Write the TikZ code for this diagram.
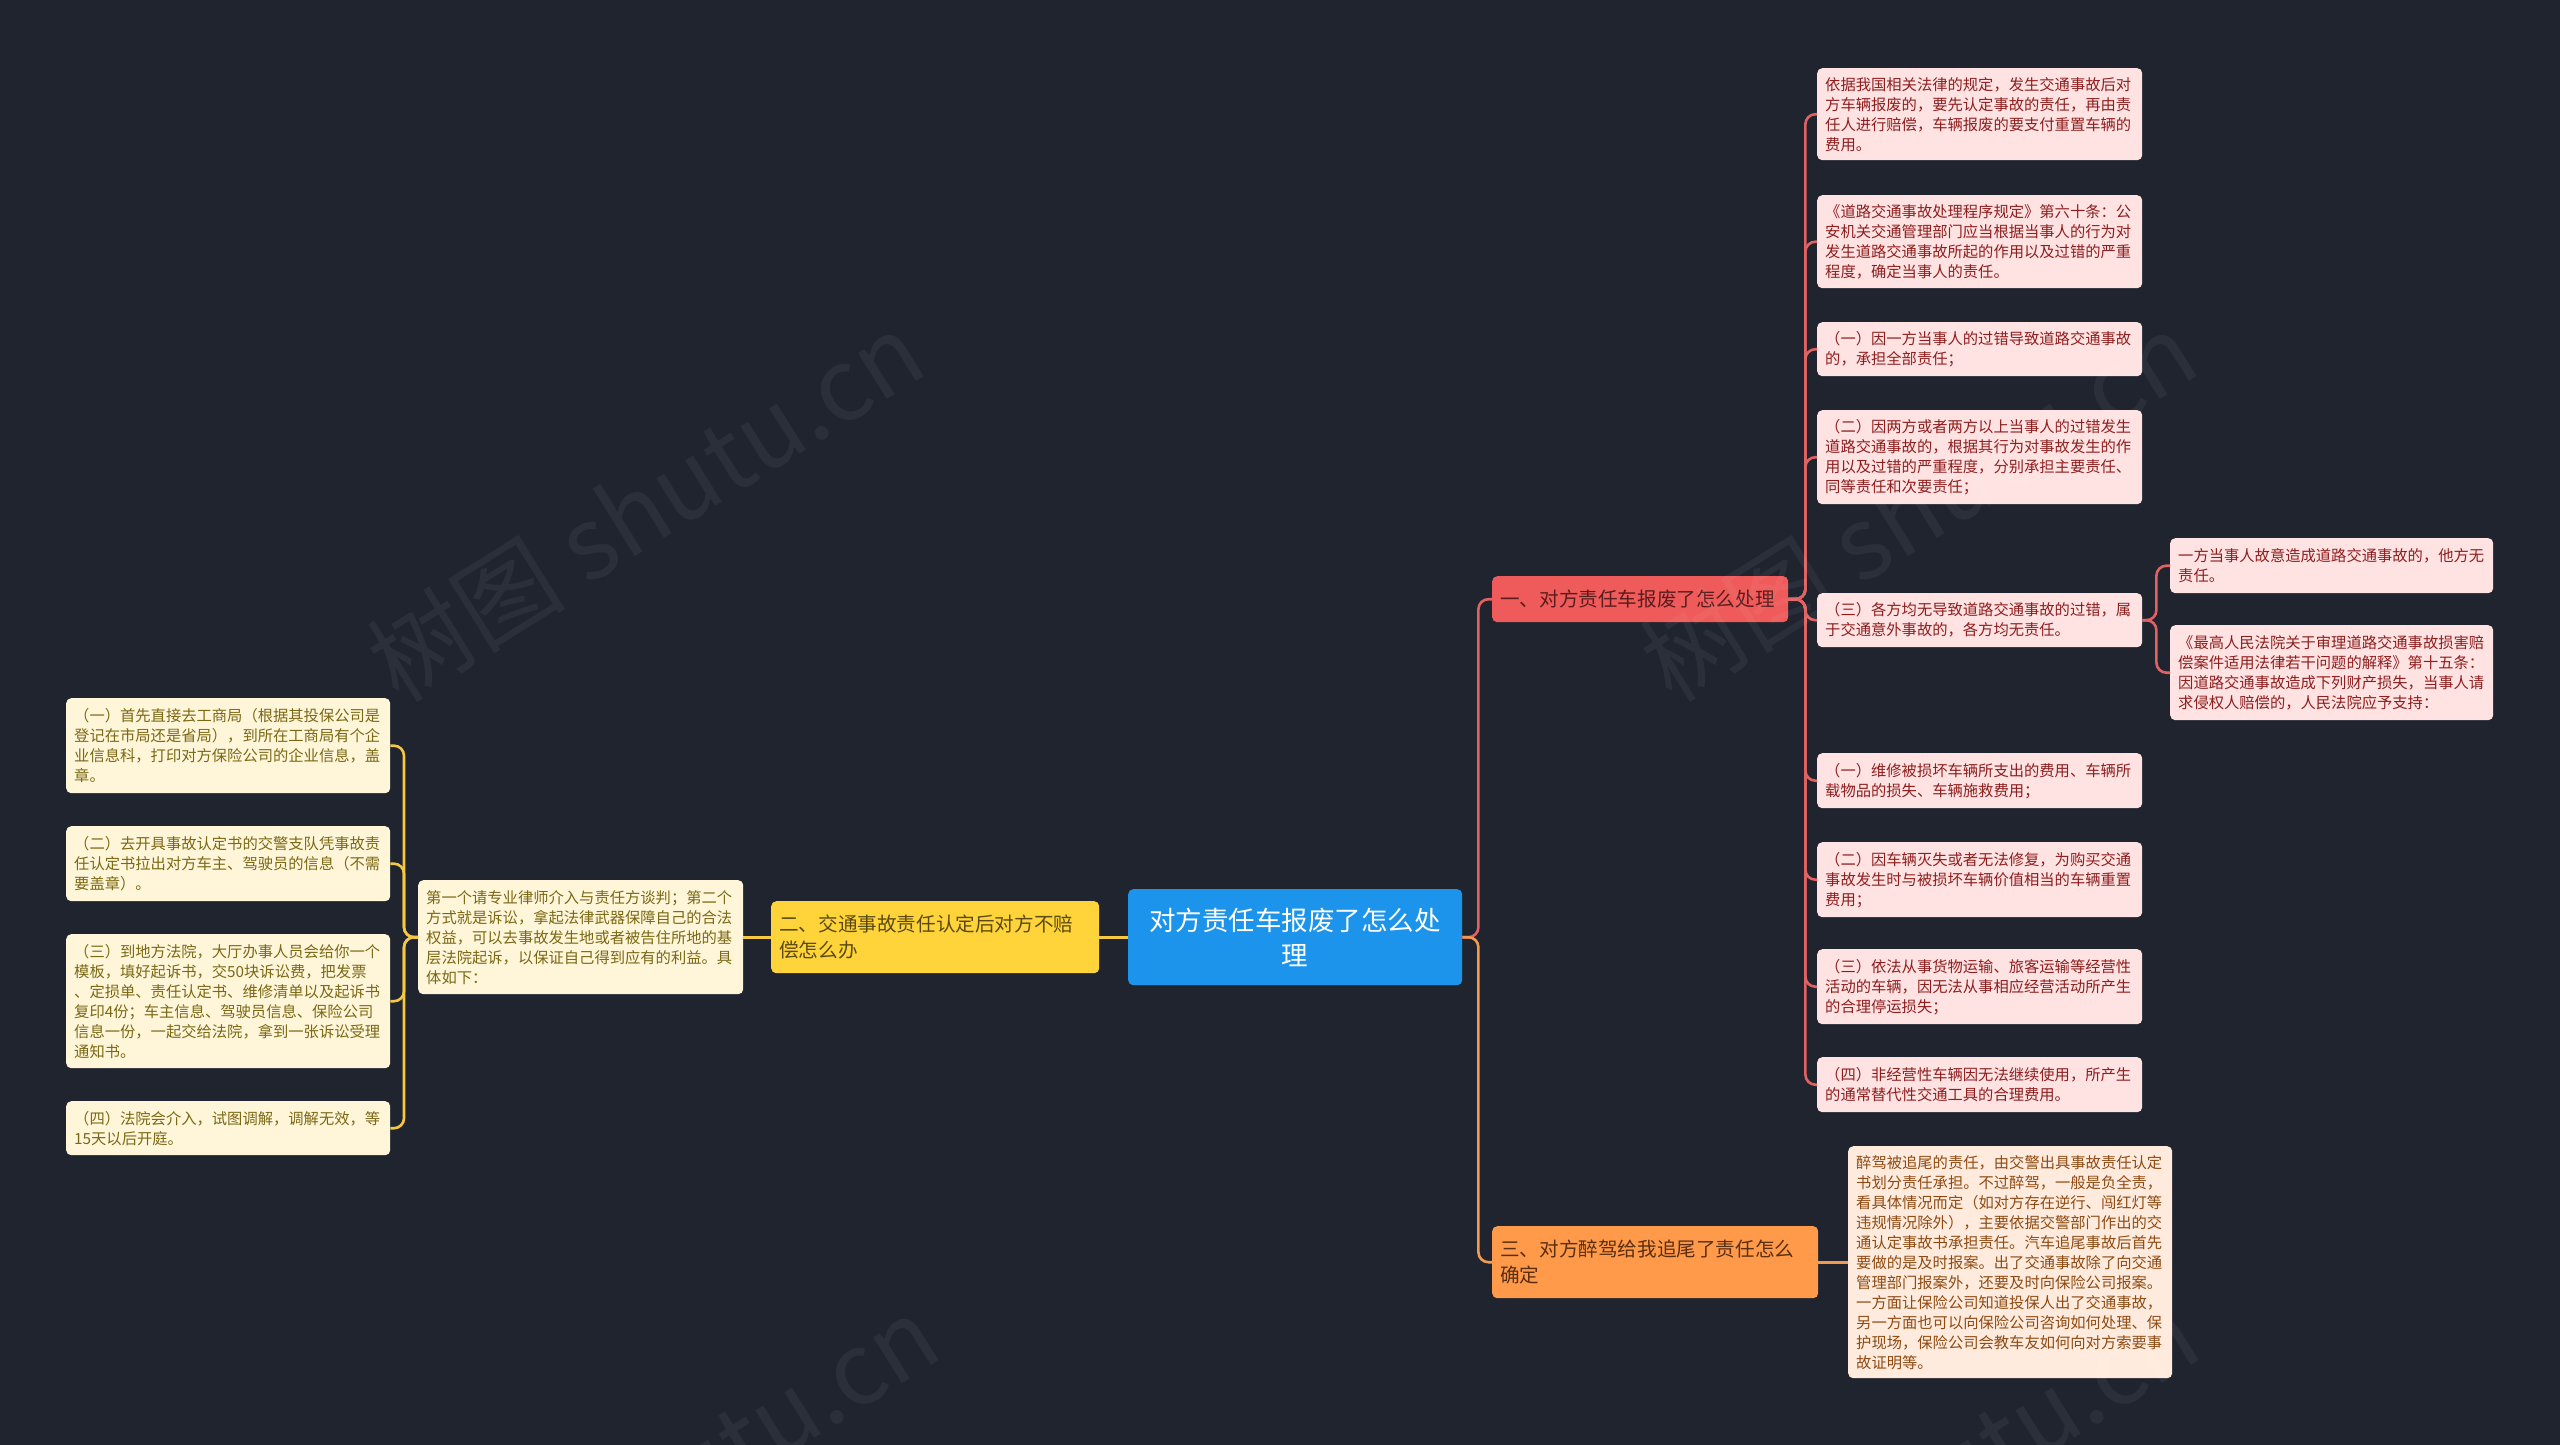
\documentclass[tikz,border=0pt]{standalone}
\usepackage{fontspec}
\newfontfamily\cjk{Noto Sans CJK SC}
\definecolor{bgc}{HTML}{20242F}
\definecolor{blueC}{HTML}{1C94EC}
\definecolor{redB}{HTML}{EF5A5A}
\definecolor{redBtext}{HTML}{5A1C1C}
\definecolor{yelB}{HTML}{FFD43B}
\definecolor{yelBtext}{HTML}{5A4A10}
\definecolor{oraB}{HTML}{FF9A4A}
\definecolor{oraBtext}{HTML}{5A2E10}
\definecolor{redLfill}{HTML}{FFE3E3}
\definecolor{redLtext}{HTML}{8E1E1E}
\definecolor{yelLfill}{HTML}{FFF6DA}
\definecolor{yelLtext}{HTML}{7A6814}
\definecolor{oraLfill}{HTML}{FFEBDD}
\definecolor{oraLtext}{HTML}{8E4A12}
\definecolor{lineRc}{HTML}{E06262}
\definecolor{lineYc}{HTML}{F5C842}
\definecolor{lineOc}{HTML}{F39A52}
\tikzset{
  boxbase/.style={rounded corners=5pt, anchor=north west, align=left, inner xsep=8pt, inner ysep=0pt},
  small/.style={font=\cjk\fontsize{15.3}{20}\selectfont},
  big/.style={font=\cjk\fontsize{19.6}{26.5}\selectfont},
  leafR/.style 2 args={boxbase, small, fill=redLfill, text=redLtext, text width=#1-16, minimum height=#2},
  leafY/.style 2 args={boxbase, small, fill=yelLfill, text=yelLtext, text width=#1-16, minimum height=#2},
  leafO/.style 2 args={boxbase, small, fill=oraLfill, text=oraLtext, text width=#1-16, minimum height=#2},
  brR/.style 2 args={boxbase, big, fill=redB, text=redBtext, text width=#1-16, minimum height=#2},
  brY/.style 2 args={boxbase, big, fill=yelB, text=yelBtext, text width=#1-16, minimum height=#2},
  brO/.style 2 args={boxbase, big, fill=oraB, text=oraBtext, text width=#1-16, minimum height=#2},
  rootbox/.style={boxbase, align=center, fill=blueC, text=white, font=\cjk\fontsize{26.5}{35}\selectfont, text width=318, minimum height=96},
  conn/.style={line width=2.6pt, rounded corners=10pt},
  lineR/.style={conn, draw=lineRc},
  lineY/.style={conn, draw=lineYc},
  lineO/.style={conn, draw=lineOc},
  wmark/.style={font=\cjk\fontsize{100}{104}\selectfont, text=white, opacity=0.05, rotate=32}
}
\begin{document}
\begin{tikzpicture}[x=1pt, y=-1pt]
\fill[bgc] (0,0) rectangle (2560,1445);
\useasboundingbox (0,0) rectangle (2560,1445);

% root
\node[rootbox] (c) at (1128,889) {对方责任车报废了怎么处\\理};

% branches
\node[brR={296}{46}] (b1) at (1492,576) {一、对方责任车报废了怎么处理};
\node[brY={328}{72}] (b2) at (771,901) {二、交通事故责任认定后对方不赔\\偿怎么办};
\node[brO={326}{72}] (b3) at (1492,1226) {三、对方醉驾给我追尾了责任怎么\\确定};

% right leaves
\node[leafR={325}{92}] (r1) at (1817,68) {依据我国相关法律的规定，发生交通事故后对\\方车辆报废的，要先认定事故的责任，再由责\\任人进行赔偿，车辆报废的要支付重置车辆的\\费用。};
\node[leafR={325}{93}] (r2) at (1817,195) {《道路交通事故处理程序规定》第六十条：公\\安机关交通管理部门应当根据当事人的行为对\\发生道路交通事故所起的作用以及过错的严重\\程度，确定当事人的责任。};
\node[leafR={325}{54}] (r3) at (1817,322) {（一）因一方当事人的过错导致道路交通事故\\的，承担全部责任；};
\node[leafR={325}{94}] (r4) at (1817,410) {（二）因两方或者两方以上当事人的过错发生\\道路交通事故的，根据其行为对事故发生的作\\用以及过错的严重程度，分别承担主要责任、\\同等责任和次要责任；};
\node[leafR={325}{54}] (r5) at (1817,593) {（三）各方均无导致道路交通事故的过错，属\\于交通意外事故的，各方均无责任。};
\node[leafR={323}{55}] (s1) at (2170,538) {一方当事人故意造成道路交通事故的，他方无\\责任。};
\node[leafR={323}{95}] (s2) at (2170,625) {《最高人民法院关于审理道路交通事故损害赔\\偿案件适用法律若干问题的解释》第十五条：\\因道路交通事故造成下列财产损失，当事人请\\求侵权人赔偿的，人民法院应予支持：};
\node[leafR={325}{55}] (r6) at (1817,753) {（一）维修被损坏车辆所支出的费用、车辆所\\载物品的损失、车辆施救费用；};
\node[leafR={325}{75}] (r7) at (1817,842) {（二）因车辆灭失或者无法修复，为购买交通\\事故发生时与被损坏车辆价值相当的车辆重置\\费用；};
\node[leafR={325}{75}] (r8) at (1817,949) {（三）依法从事货物运输、旅客运输等经营性\\活动的车辆，因无法从事相应经营活动所产生\\的合理停运损失；};
\node[leafR={325}{55}] (r9) at (1817,1057) {（四）非经营性车辆因无法继续使用，所产生\\的通常替代性交通工具的合理费用。};

% orange leaf
\node[leafO={324}{232}] (o1) at (1848,1146) {醉驾被追尾的责任，由交警出具事故责任认定\\书划分责任承担。不过醉驾，一般是负全责，\\看具体情况而定（如对方存在逆行、闯红灯等\\违规情况除外），主要依据交警部门作出的交\\通认定事故书承担责任。汽车追尾事故后首先\\要做的是及时报案。出了交通事故除了向交通\\管理部门报案外，还要及时向保险公司报案。\\一方面让保险公司知道投保人出了交通事故，\\另一方面也可以向保险公司咨询如何处理、保\\护现场，保险公司会教车友如何向对方索要事\\故证明等。};

% yellow leaves
\node[leafY={325}{114}] (y1) at (418,880) {第一个请专业律师介入与责任方谈判；第二个\\方式就是诉讼，拿起法律武器保障自己的合法\\权益，可以去事故发生地或者被告住所地的基\\层法院起诉，以保证自己得到应有的利益。具\\体如下：};
\node[leafY={324}{95}] (l1) at (66,698) {（一）首先直接去工商局（根据其投保公司是\\登记在市局还是省局），到所在工商局有个企\\业信息科，打印对方保险公司的企业信息，盖\\章。};
\node[leafY={324}{75}] (l2) at (66,826) {（二）去开具事故认定书的交警支队凭事故责\\任认定书拉出对方车主、驾驶员的信息（不需\\要盖章）。};
\node[leafY={324}{134}] (l3) at (66,934) {（三）到地方法院，大厅办事人员会给你一个\\模板，填好起诉书，交50块诉讼费，把发票\\、定损单、责任认定书、维修清单以及起诉书\\复印4份；车主信息、驾驶员信息、保险公司\\信息一份，一起交给法院，拿到一张诉讼受理\\通知书。};
\node[leafY={324}{54}] (l4) at (66,1101) {（四）法院会介入，试图调解，调解无效，等\\15天以后开庭。};

% connectors
\draw[lineR] (c.east) -- ++(16,0) |- (b1.west);
\draw[lineO] (c.east) -- ++(16,0) |- (b3.west);
\draw[lineY] (c.west) -- (b2.east);
\foreach \n in {r1,r2,r3,r4,r5,r6,r7,r8,r9}
  \draw[lineR] (b1.east) -- ++(17,0) |- (\n.west);
\foreach \n in {s1,s2}
  \draw[lineR] (r5.east) -- ++(14,0) |- (\n.west);
\draw[lineO] (b3.east) -- (o1.west);
\draw[lineY] (b2.west) -- (y1.east);
\foreach \n in {l1,l2,l3,l4}
  \draw[lineY] (y1.west) -- ++(-14,0) |- (\n.east);

% watermarks
\node[wmark] (w1) at (645,506) {树图 shutu.cn};
\node[wmark] (w2) at (1918,506) {树图 shutu.cn};
\node[wmark] (w3) at (660,1490) {树图 shutu.cn};
\node[wmark] (w4) at (1920,1490) {树图 shutu.cn};
\end{tikzpicture}
\end{document}
